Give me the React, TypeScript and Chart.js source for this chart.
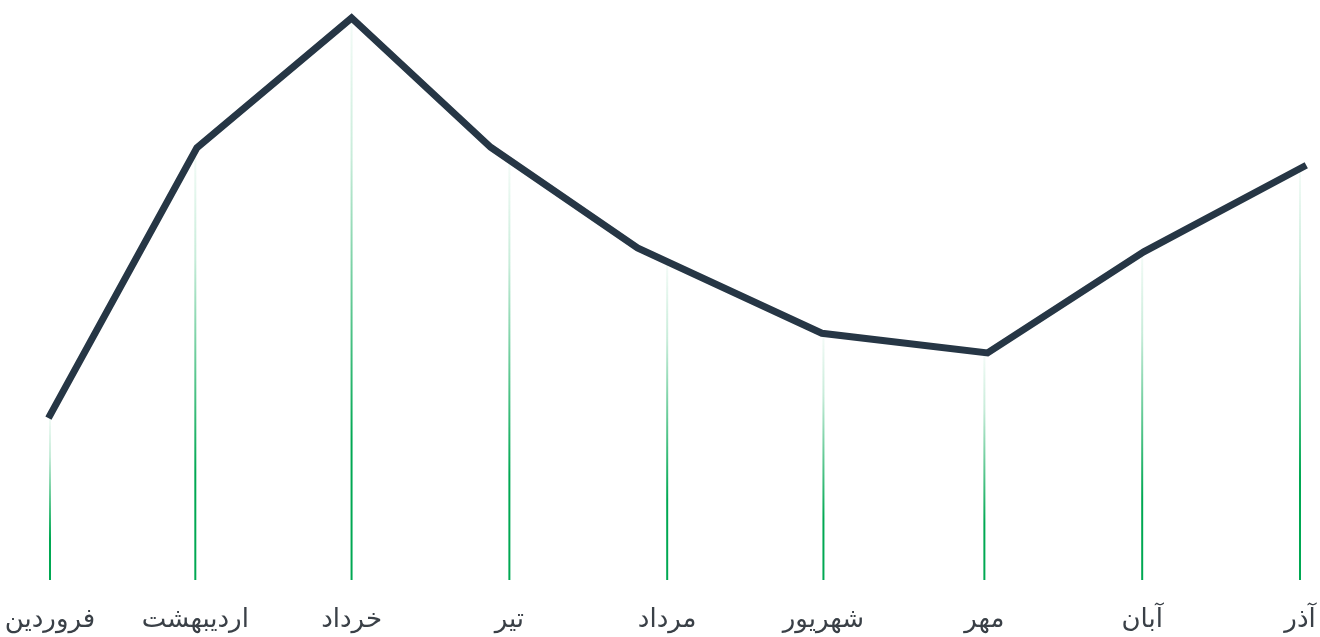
import React, { useEffect, useRef } from "react";
import { Chart, registerables } from "chart.js";

Chart.register(...registerables);

// Persian month names shown under the drop lines
const months = ["فروردین", "اردیبهشت", "خرداد", "تیر", "مرداد", "شهریور", "مهر", "آبان", "آذر"];
// where each month sits along the horizontal axis
const monthPositions = [0, 0.93, 1.93, 2.94, 3.95, 4.95, 5.98, 6.99, 8];
// trend line: positions along the axis and values
const trendX = [-0.01, 0.94, 1.93, 2.82, 3.76, 4.94, 6.0, 7.0, 8.04];
const trendY = [28.8, 76.9, 100, 77.0, 59.1, 43.9, 40.4, 58.4, 73.8];

const LINE_COLOR = "#263645";
const DROP_GREEN = "0, 168, 82";
const LABEL_COLOR = "#3a4047";

// Draws a thin vertical line at each month, from the trend line down to the baseline,
// fading from transparent at the top to green at the bottom.
const dropLinesPlugin = {
  id: "dropLines",
  beforeDatasetsDraw(chart: any) {
    const { ctx, chartArea, scales } = chart;
    const meta = chart.getDatasetMeta(0);
    const pts = meta.data.map((p: any) => ({ x: p.x, y: p.y }));
    ctx.save();
    monthPositions.forEach((pos) => {
      const x = scales.x.getPixelForValue(pos);
      let yTop = pts[0].y;
      for (let i = 0; i < pts.length - 1; i++) {
        const a = pts[i];
        const b = pts[i + 1];
        if (x >= a.x && x <= b.x) {
          const t = (x - a.x) / (b.x - a.x);
          yTop = a.y + t * (b.y - a.y);
          break;
        }
      }
      const yBottom = chartArea.bottom;
      const grad = ctx.createLinearGradient(0, yTop, 0, yBottom);
      grad.addColorStop(0, `rgba(${DROP_GREEN}, 0.04)`);
      grad.addColorStop(0.25, `rgba(${DROP_GREEN}, 0.22)`);
      grad.addColorStop(0.75, `rgba(${DROP_GREEN}, 1)`);
      grad.addColorStop(1, `rgba(${DROP_GREEN}, 1)`);
      ctx.strokeStyle = grad;
      ctx.lineWidth = 2;
      ctx.beginPath();
      ctx.moveTo(x, yTop);
      ctx.lineTo(x, yBottom);
      ctx.stroke();
    });
    ctx.restore();
  },
};

export default function App() {
  const canvasRef = useRef<HTMLCanvasElement | null>(null);

  useEffect(() => {
    const canvas = canvasRef.current;
    if (!canvas) return;
    const chart = new Chart(canvas, {
      type: "line",
      data: {
        datasets: [
          {
            data: trendX.map((x, i) => ({ x, y: trendY[i] })),
            borderColor: LINE_COLOR,
            borderWidth: 7,
            borderCapStyle: "butt",
            borderJoinStyle: "miter",
            pointRadius: 0,
            pointHoverRadius: 0,
            tension: 0,
            fill: false,
            clip: false as any,
          },
        ],
      },
      options: {
        animation: false,
        responsive: true,
        maintainAspectRatio: false,
        layout: { padding: { top: 18, bottom: 0, left: 0, right: 0 } },
        plugins: {
          legend: { display: false },
          tooltip: { enabled: false },
        },
        events: [],
        scales: {
          x: {
            type: "linear",
            min: -0.32,
            max: 8.128,
            grid: { display: false, drawTicks: false },
            border: { display: false },
            afterBuildTicks: (scale: any) => {
              scale.ticks = monthPositions.map((v) => ({ value: v }));
            },
            afterFit: (scale: any) => {
              // labels may overhang the plot edges; keep the axis height fixed
              scale.paddingLeft = 0;
              scale.paddingRight = 0;
              scale.height = 57;
            },
            ticks: {
              autoSkip: false,
              maxRotation: 0,
              padding: 25,
              color: LABEL_COLOR,
              font: { family: "'DejaVu Sans', sans-serif", size: 26 },
              callback: (_v: any, index: number) => months[index],
            },
          },
          y: {
            display: false,
            min: 0,
            max: 100,
          },
        },
      },
      plugins: [dropLinesPlugin],
    });
    return () => chart.destroy();
  }, []);

  return (
    <div style={{ position: "fixed", left: 0, top: 0, width: 1320, height: 637, background: "#fff" }}>
      <canvas ref={canvasRef} />
    </div>
  );
}
